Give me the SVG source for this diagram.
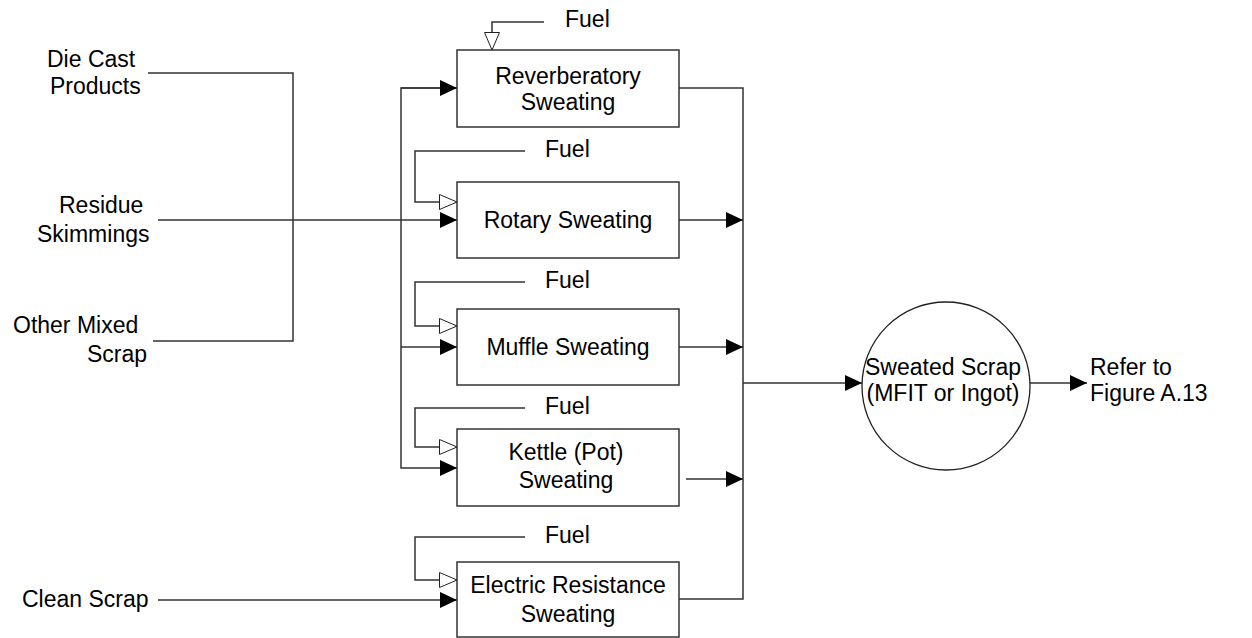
<svg xmlns="http://www.w3.org/2000/svg" width="1252" height="638" viewBox="0 0 1252 638">
<defs>
<marker id="af" markerUnits="userSpaceOnUse" markerWidth="18" markerHeight="18" refX="17" refY="8" orient="auto" overflow="visible"><path d="M0,0 L17,8 L0,16 Z" fill="#000"/></marker>
<marker id="ah" markerUnits="userSpaceOnUse" markerWidth="20" markerHeight="20" refX="18" refY="8" orient="auto" overflow="visible"><path d="M0.5,0.5 L18,8 L0.5,15.5 Z" fill="#fff" stroke="#222" stroke-width="1"/></marker>
<style>
.t{font-family:"Liberation Sans",Arial,sans-serif;font-size:23px;fill:#000}
.m{text-anchor:middle}
.b{fill:#fff;stroke:#333;stroke-width:1.5}
.c{fill:none;stroke:#333;stroke-width:1.5}
</style>
</defs>
<rect width="1252" height="638" fill="#fff"/>
<g id="connectors">
<path class="c" d="M148,73 H293 V341 H153"/>
<path class="c" d="M158,220 H457" marker-end="url(#af)"/>
<path class="c" d="M158,600 H457" marker-end="url(#af)"/>
<path class="c" d="M457,88 H401 V468 H457" marker-end="url(#af)"/>
<path class="c" d="M401,88 H457" marker-end="url(#af)"/>
<path class="c" d="M401,347 H457" marker-end="url(#af)"/>
<path class="c" d="M544,22 H492 V50" marker-end="url(#ah)"/>
<path class="c" d="M525,151 H415 V202 H457" marker-end="url(#ah)"/>
<path class="c" d="M525,282 H415 V326 H457" marker-end="url(#ah)"/>
<path class="c" d="M525,408 H415 V447 H457" marker-end="url(#ah)"/>
<path class="c" d="M525,537 H415 V580 H457" marker-end="url(#ah)"/>
<path class="c" d="M679,88 H743 V599 H679"/>
<path class="c" d="M679,220 H743" marker-end="url(#af)"/>
<path class="c" d="M679,347 H743" marker-end="url(#af)"/>
<path class="c" d="M686,479 H743" marker-end="url(#af)"/>
<path class="c" d="M743,383 H862" marker-end="url(#af)"/>
<path class="c" d="M1030,383 H1087" marker-end="url(#af)"/>
</g>
<g id="inputs">
<text class="t" x="47" y="67">Die Cast</text>
<text class="t" x="50" y="94">Products</text>
<text class="t" x="59" y="213">Residue</text>
<text class="t" x="37" y="242">Skimmings</text>
<text class="t" x="13" y="333">Other Mixed</text>
<text class="t" x="87" y="362">Scrap</text>
<text class="t" x="22" y="607">Clean Scrap</text>
</g>
<g id="fuel-labels">
<text class="t" x="565" y="27">Fuel</text>
<text class="t" x="545" y="157">Fuel</text>
<text class="t" x="545" y="288">Fuel</text>
<text class="t" x="545" y="414">Fuel</text>
<text class="t" x="545" y="543">Fuel</text>
</g>
<g id="reverberatory">
<rect class="b" x="457" y="50" width="222" height="77"/>
<text class="t m" x="568" y="84">Reverberatory</text>
<text class="t m" x="568" y="110">Sweating</text>
</g>
<g id="rotary">
<rect class="b" x="457" y="182" width="222" height="76"/>
<text class="t m" x="568" y="228">Rotary Sweating</text>
</g>
<g id="muffle">
<rect class="b" x="457" y="309" width="222" height="76"/>
<text class="t m" x="568" y="355">Muffle Sweating</text>
</g>
<g id="kettle">
<rect class="b" x="457" y="429" width="222" height="77"/>
<text class="t m" x="566" y="460">Kettle (Pot)</text>
<text class="t m" x="566" y="488">Sweating</text>
</g>
<g id="electric">
<rect class="b" x="457" y="562" width="222" height="75"/>
<text class="t m" x="568" y="593">Electric Resistance</text>
<text class="t m" x="568" y="622">Sweating</text>
</g>
<g id="sweated-scrap">
<circle cx="946" cy="386" r="84" fill="#fff" stroke="#222" stroke-width="1.3"/>
<text class="t m" x="943" y="375">Sweated Scrap</text>
<text class="t m" x="943" y="401">(MFIT or Ingot)</text>
</g>
<g id="refer">
<text class="t" x="1090" y="375">Refer to</text>
<text class="t" x="1090" y="401">Figure A.13</text>
</g>
</svg>
